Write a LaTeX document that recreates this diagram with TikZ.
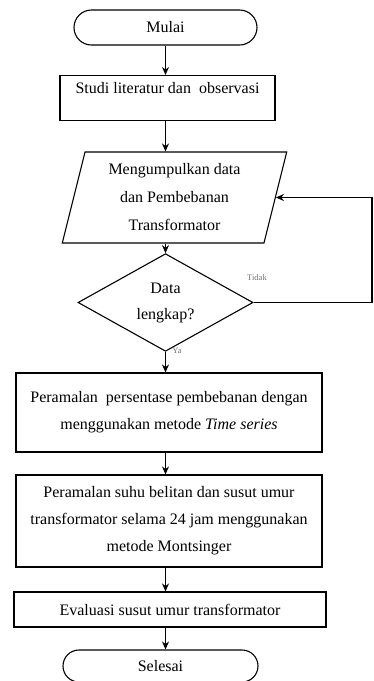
\documentclass[tikz,border=0pt]{standalone}
\usepackage{fontspec}
\setmainfont{Liberation Serif}
\usepackage{tikz}
\usetikzlibrary{positioning, arrows.meta, calc, shapes.geometric, shapes.misc}
\tikzset{every picture/.append style={thick}}
\tikzset{
  terminal/.style={draw, rounded rectangle, inner sep=0pt, font=\fontsize{16}{27}\selectfont},
  prosesbox/.style={draw, rectangle, inner sep=0pt, align=center, font=\fontsize{16}{27}\selectfont},
  databox/.style={draw, trapezium, trapezium left angle=76, trapezium right angle=104,
    trapezium stretches=true, inner sep=0pt, align=center, font=\fontsize{16}{28}\selectfont},
  keputusan/.style={draw, diamond, inner sep=0pt, align=center, font=\fontsize{16}{26}\selectfont},
  kecil/.style={font=\fontsize{8.5}{9}\selectfont, text=black!55}
}

\begin{document}
\begin{tikzpicture}[x=1pt, y=-1pt, line width=1.1pt]
    \useasboundingbox (0,0) rectangle (374,681);
    \node[terminal, minimum width=183pt, minimum height=35pt] (mulai) at (165.5,27.5) {Mulai};
    \node[prosesbox, anchor=north, minimum width=215pt, text height=18pt, text depth=27pt] (studi) at (167.5,75) {Studi literatur dan\ \ observasi};
    \node[databox, minimum width=225pt, minimum height=91pt] (data) at (174.5,197.5) {Mengumpulkan data\\dan Pembebanan\\Transformator};
    \node[keputusan, minimum width=175pt, minimum height=65pt] (cek) at (165.5,302.5) {Data\\lengkap?};
    \node[prosesbox, minimum width=306pt, minimum height=79pt] (ramal) at (169,412.5) {Peramalan\ \ persentase pembebanan dengan\\menggunakan metode \textit{Time series}};
    \node[prosesbox, minimum width=306pt, minimum height=92pt] (suhu) at (169,521) {Peramalan suhu belitan dan susut umur\\transformator selama 24 jam menggunakan\\metode Montsinger};
    \node[prosesbox, minimum width=312pt, minimum height=35pt] (evaluasi) at (170,609.5) {Evaluasi susut umur transformator};
    \node[terminal, minimum width=195pt, minimum height=32pt] (selesai) at (160.5,666) {Selesai};
    \node[kecil] (tidak) at (257,278) {Tidak};
    \node[kecil] (ya) at (177,351) {Ya};
    \coordinate (balik) at (372,302.5);

    \draw[->, >={Stealth[length=8pt, width=7pt]}] (mulai.south) -- (mulai.south |- studi.north);
    \draw[->, >={Stealth[length=8pt, width=7pt]}] (cek.north |- studi.south) -- (cek.north |- data.north);
    \draw[->, >={Stealth[length=8pt, width=7pt]}] (cek.north |- data.south) -- (cek.north);
    \draw[->, >={Stealth[length=8pt, width=7pt]}] (cek.south) -- (cek.south |- ramal.north);
    \draw[->, >={Stealth[length=8pt, width=7pt]}] (cek.south |- ramal.south) -- (cek.south |- suhu.north);
    \draw[->, >={Stealth[length=8pt, width=7pt]}] (cek.south |- suhu.south) -- (cek.south |- evaluasi.north);
    \draw[->, >={Stealth[length=8pt, width=7pt]}] (cek.south |- evaluasi.south) -- (cek.south |- selesai.north);
    \draw[->, >={Stealth[length=8pt, width=7pt]}] (cek.east) -- (balik) |- (data.east);
\end{tikzpicture}
\end{document}
